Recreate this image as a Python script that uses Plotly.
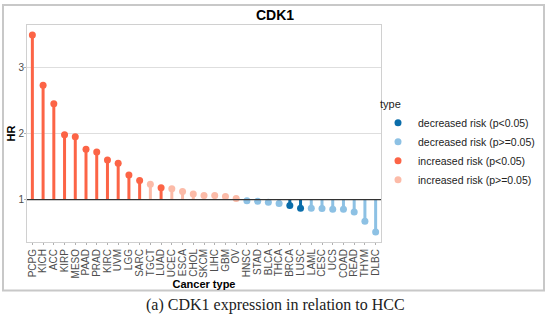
import plotly.graph_objects as go

categories = ["PCPG", "KICH", "ACC", "KIRP", "MESO", "PAAD", "PRAD", "KIRC", "UVM", "LGG",
              "SARC", "TGCT", "LUAD", "UCEC", "ESCA", "CHOL", "SKCM", "LIHC", "GBM", "OV",
              "HNSC", "STAD", "BLCA", "THCA", "BRCA", "LUSC", "LAML", "CESC", "UCS", "COAD",
              "READ", "THYM", "DLBC"]
hr_values = [3.49, 2.73, 2.45, 1.98, 1.95, 1.76, 1.72, 1.60, 1.55, 1.37,
             1.29, 1.23, 1.18, 1.165, 1.12, 1.085, 1.06, 1.06, 1.045, 1.015,
             0.98, 0.975, 0.96, 0.94, 0.91, 0.87, 0.87, 0.865, 0.855, 0.855,
             0.81, 0.67, 0.51]
risk_type = ["inc_sig"] * 11 + ["inc_ns", "inc_sig"] + ["inc_ns"] * 7 + \
            ["dec_ns"] * 4 + ["dec_sig"] * 2 + ["dec_ns"] * 7
y_ticks = [1, 2, 3]

type_order = ["dec_sig", "dec_ns", "inc_sig", "inc_ns"]
type_labels = {
    "dec_sig": "decreased risk (p<0.05)",
    "dec_ns": "decreased risk (p>=0.05)",
    "inc_sig": "increased risk (p<0.05)",
    "inc_ns": "increased risk (p>=0.05)",
}
type_colors = {
    "dec_sig": "#0A6DAA",
    "dec_ns": "#8DC1E4",
    "inc_sig": "#FC6446",
    "inc_ns": "#FCBBA8",
}
baseline = 1

fig = go.Figure()
for t in type_order:
    xs = [c for c, r in zip(categories, risk_type) if r == t]
    ys = [v for v, r in zip(hr_values, risk_type) if r == t]
    fig.add_trace(go.Bar(
        x=xs, y=[v - baseline for v in ys], base=baseline, width=0.28,
        marker=dict(color=type_colors[t], line=dict(width=0)),
        showlegend=False, hoverinfo="skip",
    ))
for t in type_order:
    xs = [c for c, r in zip(categories, risk_type) if r == t]
    ys = [v for v, r in zip(hr_values, risk_type) if r == t]
    fig.add_trace(go.Scatter(
        x=xs, y=ys, mode="markers", name=type_labels[t],
        marker=dict(color=type_colors[t], size=7, line=dict(width=0)),
    ))

L, R, T, B = 27, 381, 25, 242
W, H = 550, 320
pw, ph = R - L, B - T

def px(x):
    return (x - L) / pw

def py(y):
    return (B - y) / ph

fig.add_hline(y=baseline, line=dict(color="#333333", width=1.2))

fig.add_shape(type="rect", xref="paper", yref="paper",
              x0=px(3), x1=px(544), y0=py(290.5), y1=py(5),
              line=dict(color="#C8C8C8", width=2), layer="below")

fig.add_annotation(text="(a) CDK1 expression in relation to HCC",
                   xref="paper", yref="paper", x=px(275), y=py(305),
                   xanchor="center", yanchor="middle", showarrow=False,
                   font=dict(family="Liberation Serif", size=16, color="#222222"))

fig.update_layout(
    width=W, height=H,
    margin=dict(l=L, r=W - R, t=T, b=H - B, autoexpand=False),
    paper_bgcolor="white", plot_bgcolor="white",
    barmode="overlay",
    font=dict(family="Liberation Sans", color="#222222"),
    title=dict(text="<b>CDK1</b>", x=px(204), xanchor="center", y=1 - 15 / H, yanchor="middle",
               font=dict(size=14, color="black")),
    legend=dict(
        title=dict(text="type", font=dict(size=11, color="#222222")),
        font=dict(size=10.5, color="#222222"),
        x=px(378), xanchor="left", y=py(94), yanchor="top",
        bgcolor="rgba(0,0,0,0)", itemwidth=30, tracegroupgap=0,
    ),
)
fig.update_xaxes(
    categoryorder="array", categoryarray=categories, range=[-0.5, len(categories) - 0.5],
    tickmode="array", tickvals=categories, ticktext=categories,
    tickangle=-90, tickfont=dict(size=10, color="#4D4D4D"),
    showgrid=False, showline=True, mirror=True, linecolor="#D0D0D0", linewidth=1,
    ticks="outside", ticklen=2, tickcolor="#B0B0B0", automargin=False,
    title=dict(text="<b>Cancer type</b>", font=dict(size=11, color="black"), standoff=0),
)
fig.update_yaxes(
    range=[0.358, 3.64], tickmode="array", tickvals=y_ticks, ticktext=[str(v) for v in y_ticks],
    tickfont=dict(size=10, color="#4D4D4D"), ticklabelstandoff=-2,
    showgrid=True, gridcolor="#DEDEDE", gridwidth=1, zeroline=False,
    showline=True, mirror=True, linecolor="#D0D0D0", linewidth=1,
    ticks="outside", ticklen=2, tickcolor="#B0B0B0", automargin=False,
    title=dict(text="<b>HR</b>", font=dict(size=11, color="black"), standoff=0),
)

fig.write_html("out.html", config={"displayModeBar": False},
               post_script="document.body.style.margin='0px';document.body.style.padding='0px';")
